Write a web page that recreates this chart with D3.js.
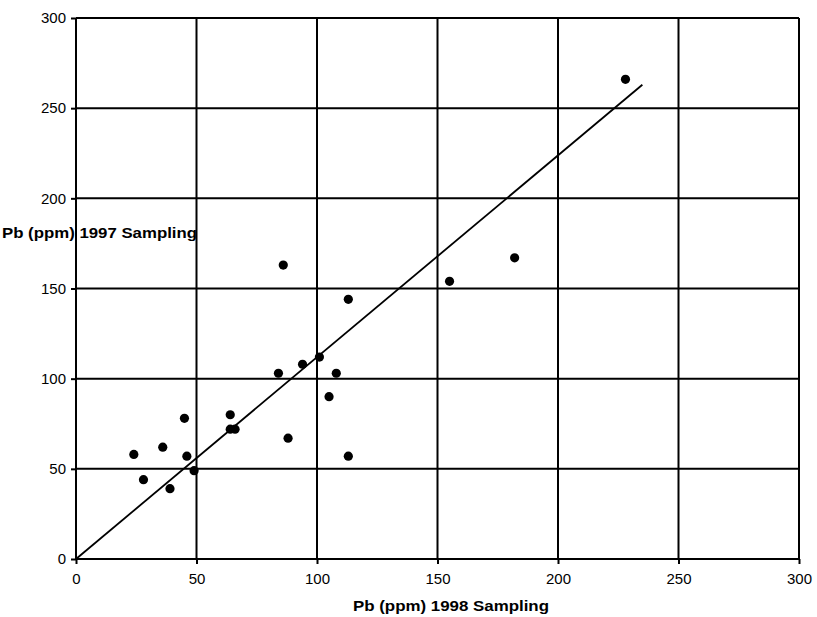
<!DOCTYPE html>
<html>
<head>
<meta charset="utf-8">
<script src="https://cdn.jsdelivr.net/npm/d3@7"></script>
<style>
    body { margin: 0; background: #fff; }
    svg { display: block; font-family: "Liberation Sans", Arial, sans-serif; }
    .tick-label { font-size: 15px; fill: #000; }
    .axis-title { font-size: 14.5px; font-weight: bold; fill: #000; }
</style>
</head>
<body>
<div id="chart-area"></div>
<script>
const xTicks = [0, 50, 100, 150, 200, 250, 300];
const yTicks = [0, 50, 100, 150, 200, 250, 300];

// Pb (ppm) per sample: 1998 sampling (x) vs 1997 sampling (y)
const pb1998 = [24, 28, 36, 39, 45, 46, 49, 64, 64, 66, 84, 86, 88, 94, 101, 105, 108, 113, 113, 155, 182, 228];
const pb1997 = [58, 44, 62, 39, 78, 57, 49, 80, 72, 72, 103, 163, 67, 108, 112, 90, 103, 144, 57, 154, 167, 266];

// trend line end points
const fitX = [0, 235];
const fitY = [0, 263];

const xTitle = "Pb (ppm) 1998 Sampling";
const yTitle = "Pb (ppm) 1997 Sampling";

function drawChart() {
    const totalWidth = 817, totalHeight = 617;
    const margin = { top: 18, right: 18, bottom: 58, left: 76 };
    const width = totalWidth - margin.left - margin.right;
    const height = totalHeight - margin.top - margin.bottom;

    const svg = d3.select('#chart-area').append('svg')
        .attr('width', totalWidth)
        .attr('height', totalHeight);

    const g = svg.append('g')
        .attr('transform', `translate(${margin.left},${margin.top})`);

    const xScale = d3.scaleLinear().domain([0, 300]).range([0, width]);
    const yScale = d3.scaleLinear().domain([0, 300]).range([height, 0]);

    // grid lines
    g.selectAll('.grid-v')
        .data(xTicks)
        .enter().append('line')
        .attr('x1', d => xScale(d)).attr('x2', d => xScale(d))
        .attr('y1', 0).attr('y2', height)
        .attr('stroke', '#000').attr('stroke-width', 2);

    g.selectAll('.grid-h')
        .data(yTicks)
        .enter().append('line')
        .attr('x1', 0).attr('x2', width)
        .attr('y1', d => yScale(d)).attr('y2', d => yScale(d))
        .attr('stroke', '#000').attr('stroke-width', 2);

    // axes with outward ticks
    const xAxis = g.append('g')
        .attr('transform', `translate(0,${height})`)
        .call(d3.axisBottom(xScale).tickValues(xTicks).tickSize(5).tickPadding(9));
    const yAxis = g.append('g')
        .call(d3.axisLeft(yScale).tickValues(yTicks).tickSize(5).tickPadding(5));

    [xAxis, yAxis].forEach(ax => {
        ax.select('.domain').remove();
        ax.selectAll('line').attr('stroke', '#000').attr('stroke-width', 2);
        ax.selectAll('text').attr('class', 'tick-label').attr('font-family', null).attr('font-size', null);
    });

    // trend line
    g.append('line')
        .attr('x1', xScale(fitX[0])).attr('y1', yScale(fitY[0]))
        .attr('x2', xScale(fitX[1])).attr('y2', yScale(fitY[1]))
        .attr('stroke', '#000').attr('stroke-width', 1.8);

    // samples
    g.selectAll('.pt')
        .data(pb1998)
        .enter().append('circle')
        .attr('class', 'pt')
        .attr('cx', d => xScale(d))
        .attr('cy', (d, i) => yScale(pb1997[i]))
        .attr('r', 4.6)
        .attr('fill', '#000');

    svg.append('text')
        .attr('class', 'axis-title')
        .attr('x', 451)
        .attr('y', 611)
        .attr('text-anchor', 'middle')
        .attr('textLength', 196)
        .attr('lengthAdjust', 'spacingAndGlyphs')
        .text(xTitle);

    svg.append('text')
        .attr('class', 'axis-title')
        .attr('x', 2)
        .attr('y', 238)
        .attr('textLength', 195)
        .attr('lengthAdjust', 'spacingAndGlyphs')
        .text(yTitle);
}

drawChart();
</script>
</body>
</html>
